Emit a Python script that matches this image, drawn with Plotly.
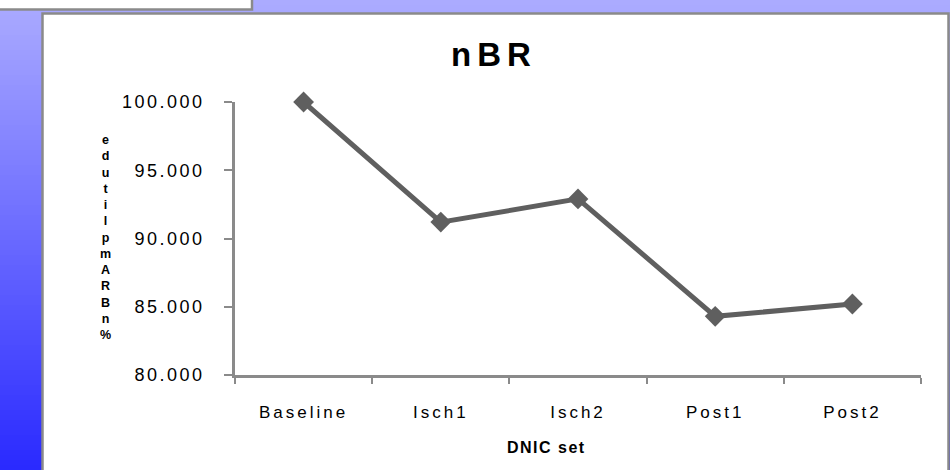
import plotly.graph_objects as go

# Data
categories = ["Baseline", "Isch1", "Isch2", "Post1", "Post2"]
nbr_values = [100.0, 91.2, 92.9, 84.3, 85.2]
y_ticks = [80, 85, 90, 95, 100]
# y-axis title, letters stacked bottom-to-top
y_title_letters = ["e", "d", "u", "t", "i", "l", "p", "m", "A", "R", "B", "n", "%"]

# Page geometry (pixels)
W, H = 950, 470
L, R, T, B = 235, 29, 102, 95
PW, PH = W - L - R, H - T - B


def px_x(px):
    return (px - L) / PW


def px_y(py):
    return (H - B - py) / PH


def spaced(text, ls):
    return f'<span style="letter-spacing:{ls}px">{text}</span>'


FONT = "Liberation Sans, Arial, sans-serif"
LINE = "#5f5f5f"
AXIS = "#8a8a8a"

fig = go.Figure()
fig.add_trace(go.Scatter(
    x=categories, y=nbr_values, mode="lines+markers",
    line=dict(color=LINE, width=5),
    marker=dict(symbol="diamond", size=16, color=LINE),
    cliponaxis=False, showlegend=False, hoverinfo="x+y",
))

shapes = []
# vertical blue gradient behind the chart panel
top_rgb, bot_rgb = (171, 171, 255), (42, 42, 255)
n_bands = 94
for i in range(n_bands):
    t = i / (n_bands - 1)
    c = tuple(round(a + (b - a) * t) for a, b in zip(top_rgb, bot_rgb))
    y0, y1 = i * H / n_bands, (i + 1) * H / n_bands + 1
    shapes.append(dict(type="rect", xref="paper", yref="paper", layer="below",
                       x0=px_x(-5), x1=px_x(W + 5), y0=px_y(y0), y1=px_y(y1),
                       fillcolor=f"rgb{c}", line=dict(width=0)))
# small white box at the top left
shapes.append(dict(type="rect", xref="paper", yref="paper", layer="below",
                   x0=px_x(-5), x1=px_x(252), y0=px_y(-5), y1=px_y(9.5),
                   fillcolor="white", line=dict(color=AXIS, width=2.5)))
# white chart panel
shapes.append(dict(type="rect", xref="paper", yref="paper", layer="below",
                   x0=px_x(42.5), x1=px_x(948.5), y0=px_y(13.5), y1=px_y(H + 10),
                   fillcolor="white", line=dict(color=AXIS, width=2.5)))

annotations = []
# stacked y-axis title
annotations.append(dict(text="<br>".join(f"<b>{ch}</b>" for ch in y_title_letters),
                        xref="paper", yref="paper",
                        x=px_x(105), y=px_y(237), xanchor="center", yanchor="middle",
                        showarrow=False,
                        font=dict(family=FONT, size=12.5, color="black")))
# x-axis title
annotations.append(dict(text=spaced("<b>DNIC set</b>", 1.5), xref="paper", yref="paper",
                        x=px_x(546), y=px_y(447), xanchor="center", yanchor="middle",
                        showarrow=False, font=dict(family=FONT, size=16, color="black")))

fig.update_layout(
    width=W, height=H,
    margin=dict(l=L, r=R, t=T, b=B, pad=0),
    paper_bgcolor="white", plot_bgcolor="rgba(0,0,0,0)",
    title=dict(text=spaced("<b>nBR</b>", 6), x=494 / W, y=1 - 54 / H,
               xanchor="center", yanchor="middle", xref="container", yref="container",
               font=dict(family=FONT, size=33, color="black")),
    shapes=shapes, annotations=annotations,
    xaxis=dict(
        range=[-0.5, 4.5], showgrid=False, zeroline=False,
        tickmode="array", tickvals=categories,
        ticktext=[spaced(c, 3) for c in categories],
        tickson="boundaries", ticks="outside", ticklen=6, tickwidth=2, tickcolor=AXIS,
        showline=True, linecolor=AXIS, linewidth=2.5,
        ticklabelstandoff=20,
        tickfont=dict(family=FONT, size=17, color="black"),
    ),
    yaxis=dict(
        range=[80, 100], showgrid=False, zeroline=False,
        tickmode="array", tickvals=y_ticks,
        ticktext=[spaced(f"{v:.3f}", 2.5) for v in y_ticks],
        ticks="outside", ticklen=8, tickwidth=2, tickcolor=AXIS,
        showline=True, linecolor=AXIS, linewidth=2.5,
        ticklabelstandoff=16,
        tickfont=dict(family=FONT, size=18, color="black"),
    ),
)

fig.write_html("out.html")
